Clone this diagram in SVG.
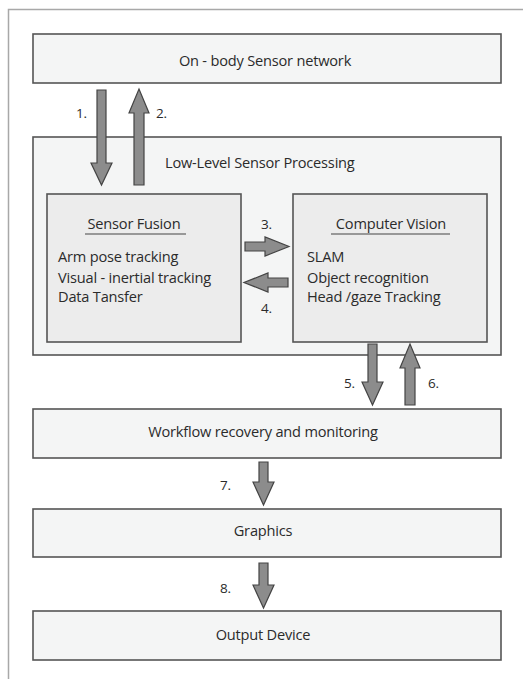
<svg xmlns="http://www.w3.org/2000/svg" width="523" height="679" viewBox="0 0 523 679">
<style>
.bg{fill:#ffffff}
.frame{fill:none;stroke:#a8a8a8;stroke-width:1.5}
.box{fill:#f4f5f5;stroke:#555;stroke-width:1.6}
.inner{fill:#ececec;stroke:#555;stroke-width:1.6}
text{font-family:"Open Sans","Liberation Sans",sans-serif;font-size:14.6px;fill:#2b2b2b;letter-spacing:-0.2px}
.n{font-size:13.5px}
.c{text-anchor:middle}
.u{stroke:#444;stroke-width:1.2}
.arr{fill:#8c8c8c;stroke:#444;stroke-width:1.2;stroke-linejoin:miter}
</style>
<rect class="bg" x="0" y="0" width="523" height="679"/>
<path class="frame" d="M8.5,679 V9.5 H523"/>

<g id="onbody">
<rect class="box" x="33" y="34" width="468" height="49"/>
<text class="c" x="265" y="66">On - body Sensor network</text>
</g>

<g id="lowlevel">
<rect class="box" x="33" y="137" width="468" height="218"/>
<text x="165" y="168">Low-Level Sensor Processing</text>
</g>

<g id="sensorfusion">
<rect class="inner" x="47" y="194" width="194" height="148"/>
<text class="c" x="134" y="229">Sensor Fusion</text>
<line class="u" x1="85" y1="234" x2="186" y2="234"/>
<text x="58" y="262">Arm pose tracking</text>
<text x="58" y="283">Visual - inertial tracking</text>
<text x="58" y="302">Data Tansfer</text>
</g>

<g id="computervision">
<rect class="inner" x="293" y="194" width="194" height="148"/>
<text class="c" x="391" y="229">Computer Vision</text>
<line class="u" x1="331" y1="234" x2="450" y2="234"/>
<text x="307" y="262">SLAM</text>
<text x="307" y="283">Object recognition</text>
<text x="307" y="302">Head /gaze Tracking</text>
</g>

<g id="workflow">
<rect class="box" x="33" y="409" width="468" height="49"/>
<text class="c" x="263" y="437">Workflow recovery and monitoring</text>
</g>

<g id="graphics">
<rect class="box" x="33" y="509" width="468" height="48"/>
<text class="c" x="263" y="536">Graphics</text>
</g>

<g id="output">
<rect class="box" x="33" y="611" width="468" height="49"/>
<text class="c" x="263" y="640">Output Device</text>
</g>

<g id="connectors">
<path class="arr" d="M97,90 H106 V163 H112 L101.5,185 L91,163 H97 Z"/>
<text class="n" x="76" y="118">1.</text>
<path class="arr" d="M134,185 H144 V113 H149 L139,89 L129,113 H134 Z"/>
<text class="n" x="156" y="118">2.</text>
<path class="arr" d="M245,242 H265 V237 L289,246.5 L265,256 V251 H245 Z"/>
<text class="n" x="261" y="229">3.</text>
<path class="arr" d="M288,278 H268 V273 L244,282.5 L268,292 V287 H288 Z"/>
<text class="n" x="261" y="313">4.</text>
<path class="arr" d="M368,344 H377 V382 H383 L372.5,405 L362,382 H368 Z"/>
<text class="n" x="344" y="388">5.</text>
<path class="arr" d="M405,405 H415 V368 H420 L410,344 L400,368 H405 Z"/>
<text class="n" x="428" y="388">6.</text>
<path class="arr" d="M259,462 H268 V482 H274 L263.5,505 L253,482 H259 Z"/>
<text class="n" x="220" y="490">7.</text>
<path class="arr" d="M259,563 H268 V585 H274 L263.5,608 L253,585 H259 Z"/>
<text class="n" x="220" y="593">8.</text>
</g>
</svg>
